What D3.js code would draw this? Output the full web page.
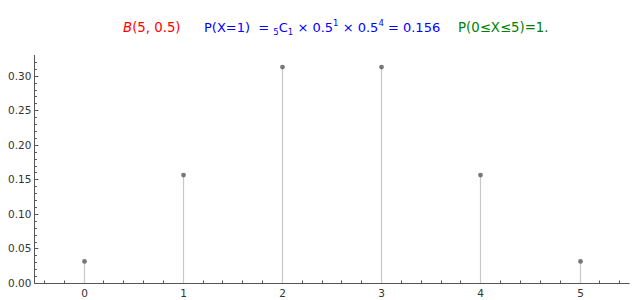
<!DOCTYPE html>
<html>
<head>
<meta charset="utf-8">
<script src="https://cdn.jsdelivr.net/npm/d3@7"></script>
<style>
  body { margin: 0; background: #fff; }
  svg { font-family: "DejaVu Sans", sans-serif; }
</style>
</head>
<body>
<div id="chart"></div>
<script>
// values
var xValues = [0, 1, 2, 3, 4, 5];
var probs = [0.03125, 0.15625, 0.3125, 0.3125, 0.15625, 0.03125];
var yTicks = [0, 0.05, 0.10, 0.15, 0.20, 0.25, 0.30];

(function () {
var width = 640, height = 300;
var mLeft = 34.4, mRight = 629.6, mTop = 55, mBottom = 283;

var svg = d3.select('#chart').append('svg')
    .attr('width', width)
    .attr('height', height);

var x = d3.scaleLinear().domain([-0.5, 5.5]).range([mLeft, mRight]);
var y = d3.scaleLinear().domain([0, 0.33]).range([mBottom, mTop]);
var px = function(v) { return Math.floor(v) + 0.5; };

// title line
var title = svg.append('text')
    .attr('y', 32)
    .attr('font-size', 13.3);

title.append('tspan').attr('x', 123).attr('fill', '#ff0000').attr('font-style', 'italic').text('B');
title.append('tspan').attr('fill', '#ff0000').text('(5, 0.5)');

var blue = svg.append('text').attr('y', 32).attr('font-size', 13).attr('fill', '#0000ff');
blue.append('tspan').attr('x', 204).text('P(X=1)\u00a0\u00a0= ');
blue.append('tspan').attr('font-size', 8.5).attr('dy', 3).text('5');
blue.append('tspan').attr('dy', -3).text('C');
blue.append('tspan').attr('font-size', 8.5).attr('dy', 3).text('1');
blue.append('tspan').attr('dy', -3).text(' \u00d7 0.5');
blue.append('tspan').attr('font-size', 8.5).attr('dy', -6).text('1');
blue.append('tspan').attr('dy', 6).text(' \u00d7 0.5');
blue.append('tspan').attr('font-size', 8.5).attr('dy', -6).text('4');
blue.append('tspan').attr('dy', 6).text(' = 0.156');

svg.append('text')
    .attr('x', 458).attr('y', 32)
    .attr('font-size', 13.3)
    .attr('fill', '#008000')
    .text('P(0\u2264X\u22645)=1.');

// axes
var axisColor = '#555';

svg.append('line')
    .attr('x1', mLeft).attr('x2', mRight)
    .attr('y1', mBottom + 0.5).attr('y2', mBottom + 0.5)
    .attr('stroke', axisColor);
svg.append('line')
    .attr('x1', px(mLeft)).attr('x2', px(mLeft))
    .attr('y1', mTop).attr('y2', mBottom)
    .attr('stroke', axisColor);

// x ticks (minor every 0.2)
var xMinor = d3.range(-0.4, 5.5, 0.2).map(function(d) { return Math.round(d * 10) / 10; });
svg.append('g').selectAll('line')
    .data(xMinor)
    .enter().append('line')
    .attr('x1', function(d) { return px(x(d)); })
    .attr('x2', function(d) { return px(x(d)); })
    .attr('y1', mBottom)
    .attr('y2', function(d) { return Number.isInteger(d) ? mBottom - 4 : mBottom - 2.5; })
    .attr('stroke', axisColor);

svg.append('g').selectAll('text')
    .data(xValues)
    .enter().append('text')
    .attr('x', function(d) { return px(x(d)); })
    .attr('y', mBottom + 14)
    .attr('text-anchor', 'middle')
    .attr('font-size', 10.5)
    .attr('fill', '#333')
    .text(function(d) { return d; });

// y ticks (minor every 0.01)
var yMinor = d3.range(0, 33).map(function(d) { return d / 100; });
svg.append('g').selectAll('line')
    .data(yMinor)
    .enter().append('line')
    .attr('x1', mLeft)
    .attr('x2', function(d, i) { return i % 5 === 0 ? mLeft + 4 : mLeft + 2.5; })
    .attr('y1', function(d) { return Math.round(y(d)) + 0.5; })
    .attr('y2', function(d) { return Math.round(y(d)) + 0.5; })
    .attr('stroke', axisColor);

svg.append('g').selectAll('text')
    .data(yTicks)
    .enter().append('text')
    .attr('x', mLeft - 3)
    .attr('y', function(d) { return y(d) + 3.8; })
    .attr('text-anchor', 'end')
    .attr('font-size', 10.5)
    .attr('fill', '#333')
    .text(function(d) { return d.toFixed(2); });

// stems
svg.append('g').selectAll('line')
    .data(xValues)
    .enter().append('line')
    .attr('x1', function(d) { return px(x(d)); })
    .attr('x2', function(d) { return px(x(d)); })
    .attr('y1', mBottom)
    .attr('y2', function(d, i) { return y(probs[i]); })
    .attr('stroke', '#c8c8c8')
    .attr('stroke-width', 1.2);

// points
svg.append('g').selectAll('circle')
    .data(xValues)
    .enter().append('circle')
    .attr('cx', function(d) { return px(x(d)); })
    .attr('cy', function(d, i) { return y(probs[i]); })
    .attr('r', 2.4)
    .attr('fill', '#777');
})();
</script>
</body>
</html>
